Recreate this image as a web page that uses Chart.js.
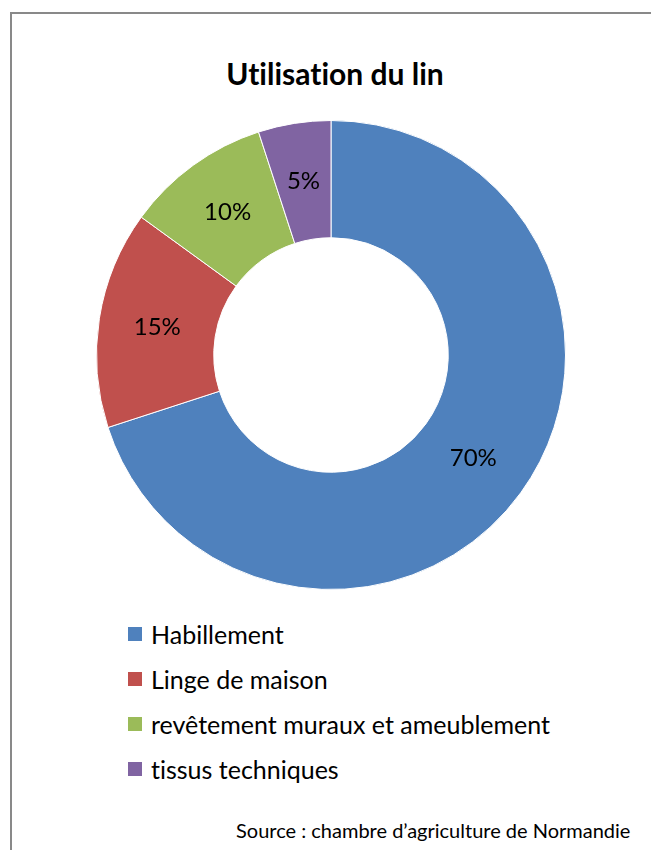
<!DOCTYPE html>
<html>
<head>
<meta charset="utf-8">
<script src="https://cdn.jsdelivr.net/npm/chart.js@4"></script>
<style>
  html, body { margin: 0; padding: 0; background: #fff; }
  body { width: 651px; height: 850px; overflow: hidden; position: relative; font-family: Lato, "Open Sans", sans-serif; color: #000; font-variant-ligatures: none; }
  #frame { position: absolute; left: 10px; top: 12px; width: 700px; height: 900px; border-left: 2px solid #898989; border-top: 2px solid #898989; }
  #title { position: absolute; left: 0; width: 670px; top: 55px; text-align: center; font-weight: bold; font-size: 30px; }
  #chartBox { position: absolute; left: 96px; top: 120px; width: 470px; height: 470px; }
  #legend { position: absolute; left: 128px; top: 611px; }
  .row { display: flex; align-items: center; height: 45px; font-size: 25px; }
  .sw { width: 14px; height: 14px; margin-right: 9px; }
  #source { position: absolute; left: 236px; top: 818px; font-size: 20px; white-space: nowrap; }
</style>
</head>
<body>
<div id="frame"></div>
<div id="title">Utilisation du lin</div>
<div id="chartBox"><canvas id="linChart" width="470" height="470"></canvas></div>
<div id="legend"></div>
<div id="source">Source : chambre d’agriculture de Normandie</div>
<script>
const categories = ['Habillement', 'Linge de maison', 'revêtement muraux et ameublement', 'tissus techniques'];
const shares = [70, 15, 10, 5];
const colors = ['#4F81BD', '#C0504D', '#9BBB59', '#8064A2'];

// Draw the percentage in the middle of each slice
const sliceLabels = {
  id: 'sliceLabels',
  afterDatasetsDraw(chart) {
    const ctx = chart.ctx;
    const meta = chart.getDatasetMeta(0);
    ctx.save();
    ctx.font = '24px Lato, "Open Sans", sans-serif';
    ctx.fillStyle = '#000';
    ctx.textAlign = 'center';
    ctx.textBaseline = 'middle';
    meta.data.forEach((arc, i) => {
      const pos = arc.tooltipPosition();
      ctx.fillText(shares[i] + '%', pos.x, pos.y);
    });
    ctx.restore();
  }
};

// Legend built from the same arrays
const legend = document.getElementById('legend');
categories.forEach((name, i) => {
  const row = document.createElement('div');
  row.className = 'row';
  row.innerHTML = `<div class="sw" style="background:${colors[i]}"></div><span>${name}</span>`;
  legend.appendChild(row);
});

new Chart(document.getElementById('linChart'), {
  type: 'doughnut',
  data: {
    labels: categories,
    datasets: [{
      data: shares,
      backgroundColor: colors,
      borderColor: '#ffffff',
      borderWidth: 1
    }]
  },
  options: {
    responsive: false,
    animation: false,
    cutout: '50%',
    layout: { padding: 0 },
    plugins: {
      legend: { display: false },
      title: { display: false },
      tooltip: { enabled: false }
    }
  },
  plugins: [sliceLabels]
});
</script>
</body>
</html>
